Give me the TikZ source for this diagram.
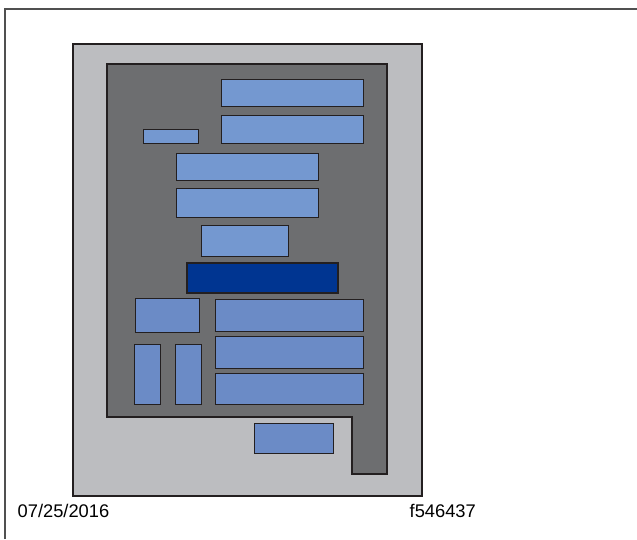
\documentclass[tikz,border=0pt]{standalone}
\usepackage{fontspec}
\setmainfont{Liberation Sans}
\definecolor{lgray}{HTML}{BCBDC0}
\definecolor{dgray}{HTML}{6D6E70}
\definecolor{lblue}{HTML}{7498D0}
\definecolor{mblue}{HTML}{6B8BC6}
\definecolor{dblue}{HTML}{003591}
\definecolor{edge}{HTML}{231F20}
\definecolor{framec}{HTML}{505050}
\tikzset{
  box/.style={draw=edge, line width=1.1pt, fill=lblue, inner sep=0pt, anchor=north west, rectangle},
  boxb/.style={box, fill=mblue},
  darkbox/.style={box, fill=dblue, line width=2.4pt},
  lbl/.style={inner sep=0pt, anchor=base west, font=\fontsize{18.3}{20}\selectfont}
}
\newcommand{\bx}[6]{\node[#1, minimum width=#4pt-#2pt, minimum height=#5pt-#3pt] (#6) at (#2pt,-#3pt) {};}
\begin{document}
\begin{tikzpicture}[x=1pt,y=-1pt]
\useasboundingbox (0,0) rectangle (637,539);
% page frame
\draw[framec, line width=1.4pt] (5,539) -- (5,9) -- (637,9);
% outer panel
\node[draw=edge, line width=2pt, fill=lgray, anchor=north west, minimum width=349pt, minimum height=452pt, inner sep=0pt] (panel) at (72pt,-42.5pt) {};
% inner dark board
\draw[draw=edge, line width=2.6pt, fill=dgray, line join=miter]
  (107,64) -- (387,64) -- (387,474) -- (352,474) -- (352,417) -- (107,417) -- cycle;
% top boxes
\bx{box}{221}{79}{363}{106}{r1}
\bx{box}{221}{115}{363}{142.5}{r2}
\bx{box}{142.5}{129}{198}{142.5}{s1}
\bx{box}{176}{153}{318}{180}{r3}
\bx{box}{176}{188}{318}{217}{r4}
\bx{box}{200.5}{224.5}{288}{256}{r5}
\bx{darkbox}{186}{262}{337}{292}{db}
% lower boxes
\bx{boxb}{134.5}{297.5}{198.5}{332}{l1}
\bx{boxb}{215}{299}{363}{330.5}{m1}
\bx{boxb}{215}{336}{363}{367.5}{m2}
\bx{boxb}{215}{373}{363}{404}{m3}
\bx{boxb}{133.5}{343.5}{160}{404}{v1}
\bx{boxb}{174.5}{343.5}{200.5}{404}{v2}
\bx{boxb}{254}{423}{333}{452.5}{bt}
% labels
\node[lbl] (date) at (17.5,517) {07/25/2016};
\node[lbl] (fig) at (409.5,517) {f546437};
\end{tikzpicture}
\end{document}
